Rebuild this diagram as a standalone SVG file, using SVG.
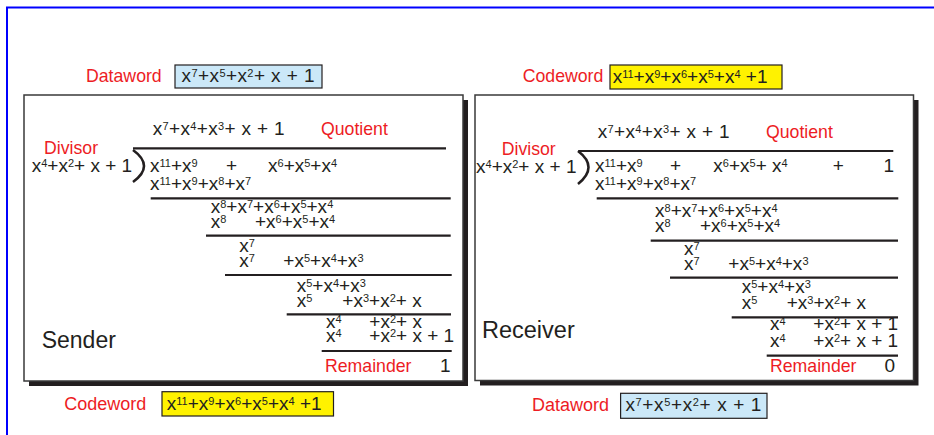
<svg xmlns="http://www.w3.org/2000/svg" width="934" height="435" viewBox="0 0 934 435">
<style>
.m{font-family:"Liberation Sans",Arial,sans-serif;font-size:19px;fill:#231f20}
.s{font-size:11px;baseline-shift:5px}
.r{font-family:"Liberation Sans",Arial,sans-serif;font-size:17.7px;fill:#ed1c24}
.big{font-family:"Liberation Sans",Arial,sans-serif;font-size:23px;fill:#231f20}
.bar{stroke:#231f20;stroke-width:2.2;fill:none}
.panel{fill:#fff;stroke:#3a3a3a;stroke-width:1.5}
.shadow{fill:#231f20}
.blue{fill:#cbe8f8;stroke:#231f20;stroke-width:1.2}
.yel{fill:#fff200;stroke:#231f20;stroke-width:1.2}
.brk{stroke:#231f20;stroke-width:2.6;fill:none}
</style>
<rect width="934" height="435" fill="#fff"/>
<path d="M7,440 V7.5 H940" fill="none" stroke="#0000ff" stroke-width="2"/>

<g id="top-labels">
<text class="r" x="86" y="82">Dataword</text>
<rect class="blue" x="175" y="65" width="147" height="23"/>
<text class="m" x="181.5" y="82" textLength="133" lengthAdjust="spacing">x<tspan class="s">7</tspan>+x<tspan class="s">5</tspan>+x<tspan class="s">2</tspan>+ x + 1</text>
<text class="r" x="522.7" y="82">Codeword</text>
<rect class="yel" x="610" y="65" width="172" height="24"/>
<text class="m" x="612.7" y="82.5">x<tspan class="s">11</tspan>+x<tspan class="s">9</tspan>+x<tspan class="s">6</tspan>+x<tspan class="s">5</tspan>+x<tspan class="s">4</tspan> +1</text>
</g>

<g id="sender">
<rect class="shadow" x="29" y="100" width="439" height="286"/>
<rect class="panel" x="24" y="95" width="439" height="286"/>
<text class="m" x="152.7" y="135" textLength="132" lengthAdjust="spacing">x<tspan class="s">7</tspan>+x<tspan class="s">4</tspan>+x<tspan class="s">3</tspan>+ x + 1</text>
<text class="r" x="321" y="135">Quotient</text>
<text class="r" x="44" y="154">Divisor</text>
<text class="m" x="31.7" y="172.3">x<tspan class="s">4</tspan>+x<tspan class="s">2</tspan>+ x + 1</text>
<path class="brk" d="M133,150 Q155,166 133,182"/>
<path class="bar" d="M133,148.3 H446 M150.7,198.3 H450.7 M206,235.7 H450.7 M225,275 H451.7 M286.7,314.3 H451 M321.7,351 H451.7"/>
<text class="m" x="150" y="172">x<tspan class="s">11</tspan>+x<tspan class="s">9</tspan></text>
<text class="m" x="226" y="172">+</text>
<text class="m" x="268" y="172">x<tspan class="s">6</tspan>+x<tspan class="s">5</tspan>+x<tspan class="s">4</tspan></text>
<text class="m" x="150" y="190">x<tspan class="s">11</tspan>+x<tspan class="s">9</tspan>+x<tspan class="s">8</tspan>+x<tspan class="s">7</tspan></text>
<text class="m" x="210.7" y="213.3">x<tspan class="s">8</tspan>+x<tspan class="s">7</tspan>+x<tspan class="s">6</tspan>+x<tspan class="s">5</tspan>+x<tspan class="s">4</tspan></text>
<text class="m" x="210.7" y="228.3">x<tspan class="s">8</tspan></text>
<text class="m" x="255" y="228.3">+x<tspan class="s">6</tspan>+x<tspan class="s">5</tspan>+x<tspan class="s">4</tspan></text>
<text class="m" x="239.3" y="251.7">x<tspan class="s">7</tspan></text>
<text class="m" x="239.3" y="266.7">x<tspan class="s">7</tspan></text>
<text class="m" x="283.3" y="266.7">+x<tspan class="s">5</tspan>+x<tspan class="s">4</tspan>+x<tspan class="s">3</tspan></text>
<text class="m" x="296.7" y="291.7">x<tspan class="s">5</tspan>+x<tspan class="s">4</tspan>+x<tspan class="s">3</tspan></text>
<text class="m" x="296.7" y="306.7">x<tspan class="s">5</tspan></text>
<text class="m" x="342.3" y="306.7">+x<tspan class="s">3</tspan>+x<tspan class="s">2</tspan>+ x</text>
<text class="m" x="326" y="328.3">x<tspan class="s">4</tspan></text>
<text class="m" x="369.3" y="328.3">+x<tspan class="s">2</tspan>+ x</text>
<text class="m" x="326" y="342.3">x<tspan class="s">4</tspan></text>
<text class="m" x="369.3" y="342.3">+x<tspan class="s">2</tspan>+ x + 1</text>
<text class="r" x="325" y="372.3">Remainder</text>
<text class="m" x="450.5" y="372.3" text-anchor="end">1</text>
<text class="big" x="41.7" y="348">Sender</text>
</g>

<g id="receiver">
<rect class="shadow" x="480" y="100" width="438.5" height="285.5"/>
<rect class="panel" x="475" y="95" width="438.5" height="285.5"/>
<text class="m" x="597.7" y="138.3" textLength="132" lengthAdjust="spacing">x<tspan class="s">7</tspan>+x<tspan class="s">4</tspan>+x<tspan class="s">3</tspan>+ x + 1</text>
<text class="r" x="766" y="138">Quotient</text>
<text class="r" x="501.7" y="155">Divisor</text>
<text class="m" x="476" y="173.3">x<tspan class="s">4</tspan>+x<tspan class="s">2</tspan>+ x + 1</text>
<path class="brk" d="M578,151 Q599,167 578,184"/>
<path class="bar" d="M578.3,151 H893.3 M596.7,198.3 H898.3 M650.7,240.7 H898 M670,277.7 H898 M731.7,317.3 H898 M766.7,355.7 H898"/>
<text class="m" x="595" y="172.3">x<tspan class="s">11</tspan>+x<tspan class="s">9</tspan></text>
<text class="m" x="670" y="172.3">+</text>
<text class="m" x="713.3" y="172.3">x<tspan class="s">6</tspan>+x<tspan class="s">5</tspan>+ x<tspan class="s">4</tspan></text>
<text class="m" x="832.7" y="172.3">+</text>
<text class="m" x="894" y="172.3" text-anchor="end">1</text>
<text class="m" x="595" y="190">x<tspan class="s">11</tspan>+x<tspan class="s">9</tspan>+x<tspan class="s">8</tspan>+x<tspan class="s">7</tspan></text>
<text class="m" x="655" y="216.7">x<tspan class="s">8</tspan>+x<tspan class="s">7</tspan>+x<tspan class="s">6</tspan>+x<tspan class="s">5</tspan>+x<tspan class="s">4</tspan></text>
<text class="m" x="655" y="231.7">x<tspan class="s">8</tspan></text>
<text class="m" x="700" y="231.7">+x<tspan class="s">6</tspan>+x<tspan class="s">5</tspan>+x<tspan class="s">4</tspan></text>
<text class="m" x="684" y="255">x<tspan class="s">7</tspan></text>
<text class="m" x="684" y="270">x<tspan class="s">7</tspan></text>
<text class="m" x="728.3" y="270">+x<tspan class="s">5</tspan>+x<tspan class="s">4</tspan>+x<tspan class="s">3</tspan></text>
<text class="m" x="741.7" y="293.3">x<tspan class="s">5</tspan>+x<tspan class="s">4</tspan>+x<tspan class="s">3</tspan></text>
<text class="m" x="741.7" y="309">x<tspan class="s">5</tspan></text>
<text class="m" x="786.7" y="309">+x<tspan class="s">3</tspan>+x<tspan class="s">2</tspan>+ x</text>
<text class="m" x="770" y="330">x<tspan class="s">4</tspan></text>
<text class="m" x="813.3" y="330">+x<tspan class="s">2</tspan>+ x + 1</text>
<text class="m" x="770" y="346.7">x<tspan class="s">4</tspan></text>
<text class="m" x="813.3" y="346.7">+x<tspan class="s">2</tspan>+ x + 1</text>
<text class="r" x="770" y="371.7">Remainder</text>
<text class="m" x="895" y="371.7" text-anchor="end">0</text>
<text class="big" x="482" y="338" style="font-size:23.5px">Receiver</text>
</g>

<g id="bottom-labels">
<text class="r" x="64.3" y="410" style="font-size:18px">Codeword</text>
<rect class="yel" x="162" y="391.7" width="171.5" height="24.3"/>
<text class="m" x="166.8" y="410">x<tspan class="s">11</tspan>+x<tspan class="s">9</tspan>+x<tspan class="s">6</tspan>+x<tspan class="s">5</tspan>+x<tspan class="s">4</tspan> +1</text>
<text class="r" x="532" y="411" style="font-size:18px">Dataword</text>
<rect class="blue" x="620.6" y="393.3" width="146.4" height="25"/>
<text class="m" x="625.4" y="411" textLength="136" lengthAdjust="spacing">x<tspan class="s">7</tspan>+x<tspan class="s">5</tspan>+x<tspan class="s">2</tspan>+ x + 1</text>
</g>
</svg>
